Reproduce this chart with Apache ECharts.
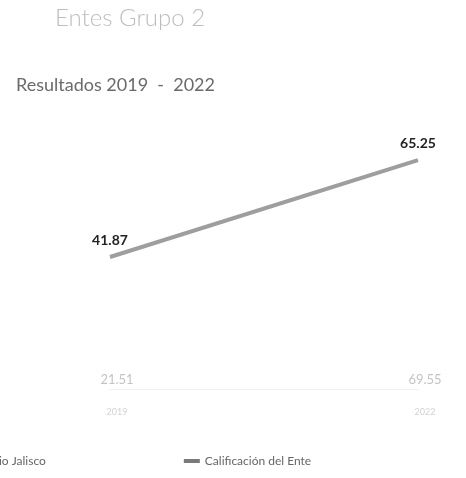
<!DOCTYPE html>
<html>
<head>
<meta charset="utf-8">
<script src="https://cdn.jsdelivr.net/npm/echarts@6/dist/echarts.min.js"></script>
<style>html,body{margin:0;padding:0;background:#fff}#c{width:466px;height:478px}</style>
</head>
<body>
<div id="c"></div>
<script>
var categories = ['2019', '2022'];
var calificacionEnte = [41.87, 65.25];
var promedioJalisco = [21.51, 69.55];
var seriesNames = ['Promedio Jalisco', 'Calificación del Ente'];

var chart = echarts.init(document.getElementById('c'));
chart.setOption({
  animation: false,
  backgroundColor: '#fff',
  title: [
    { text: 'Entes Grupo 2', left: 50, top: 1,
      textStyle: { fontFamily: 'Lato', fontSize: 24, fontWeight: 300, color: '#bdbdbd' } },
    { text: 'Resultados 2019  -  2022', left: 11, top: 71,
      textStyle: { fontFamily: 'Lato', fontSize: 18, fontWeight: 'normal', color: '#6a6a6a' } }
  ],
  legend: {
    left: -68, bottom: 6, itemGap: 138, itemWidth: 16, itemHeight: 4,
    data: [
      { name: seriesNames[0], icon: 'rect', itemStyle: { color: '#f2f2f2' } },
      { name: seriesNames[1], icon: 'rect', itemStyle: { color: '#7a7a7a' } }
    ],
    textStyle: { fontFamily: 'Lato', fontSize: 12, color: '#666' }
  },
  grid: { left: 110, right: 48, top: 99, bottom: 89 },
  xAxis: {
    type: 'category', data: categories, boundaryGap: false,
    axisLine: { show: true, lineStyle: { color: '#f0f0f0' } },
    axisTick: { show: false },
    axisLabel: {
      margin: -25,
      formatter: function (v, i) { return '{a|' + promedioJalisco[i].toFixed(2) + '}\n{b|' + v + '}'; },
      rich: {
        a: { fontFamily: 'Lato', fontSize: 13, color: '#c4c4c4', lineHeight: 32, padding: [0, 0, 0, 14] },
        b: { fontFamily: 'Lato', fontSize: 9, color: '#d2d2d2', lineHeight: 32, padding: [0, 0, 0, 14] }
      }
    }
  },
  yAxis: { type: 'value', min: 10, max: 80, show: false, splitLine: { show: false } },
  series: [
    { name: seriesNames[0], type: 'line', data: [], showSymbol: false,
      lineStyle: { color: '#f2f2f2' }, itemStyle: { color: '#f2f2f2' } },
    { name: seriesNames[1], type: 'line', data: calificacionEnte,
      showSymbol: true, symbol: 'circle', symbolSize: 1,
      lineStyle: { color: '#9e9e9e', width: 4 }, itemStyle: { color: 'rgba(0,0,0,0)' },
      label: { show: true, position: 'top', distance: 9, formatter: function (p) { return p.value.toFixed(2); },
        fontFamily: 'Lato', fontSize: 14, fontWeight: 'bold', color: '#222' } }
  ]
});
</script>
</body>
</html>
